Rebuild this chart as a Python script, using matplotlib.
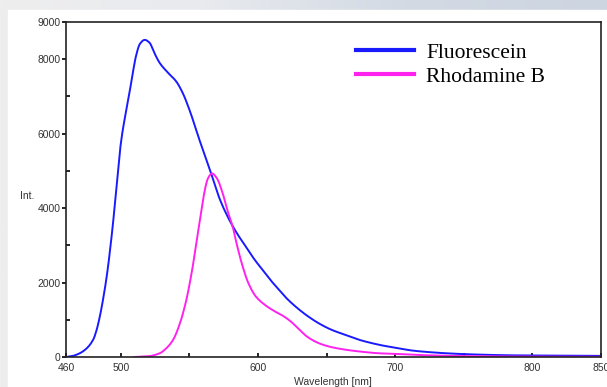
import numpy as np
import matplotlib
matplotlib.use("Agg")
import matplotlib.pyplot as plt
from matplotlib.patches import Rectangle

# =========================
# Data (wavelength in nm, intensity)
# =========================
fluor_nm = [460, 465, 470, 475, 480, 482.5, 485, 487.5, 490, 494, 497, 500, 503.5, 506.5,
            509, 511.3, 514, 517.4, 521, 524, 528.3, 534, 540.4, 545, 550, 557.3,
            565.8, 572, 579.1, 585, 591.2, 597, 603.3, 609, 615.4, 621, 627.5, 635,
            644.5, 653, 663.9, 673, 683.2, 692, 702.6, 712, 725, 737, 748.6, 765,
            785, 805, 825, 850]
fluor_int = [0, 30, 100, 230, 480, 750, 1150, 1650, 2250, 3500, 4650, 5750, 6550, 7150,
             7700, 8130, 8420, 8520, 8440, 8200, 7900, 7650, 7400, 7100, 6640, 5830,
             4930, 4250, 3680, 3300, 2960, 2640, 2340, 2070, 1800, 1570, 1350, 1130,
             900, 740, 590, 470, 370, 300, 235, 175, 130, 100, 80, 60,
             45, 40, 35, 30]

rhod_nm = [510, 520, 528.3, 533, 538, 543, 547.7, 552, 556, 559, 561, 563.5, 566.5,
           570, 574.2, 578, 581.5, 585, 588.8, 593, 598.5, 605, 612, 618, 624,
           630, 636, 645, 653, 663, 675.9, 688, 702.6, 720, 750, 800, 850]
rhod_int = [0, 20, 100, 230, 456, 900, 1530, 2350, 3300, 4000, 4450, 4800, 4930,
            4800, 4400, 3900, 3500, 2950, 2430, 1980, 1620, 1400, 1230, 1110, 950,
            740, 540, 360, 270, 200, 140, 100, 80, 50, 25, 10, 5]

x_ticks = [460, 500, 600, 700, 800, 850]
y_ticks = [0, 2000, 4000, 6000, 8000, 9000]


def smooth(x, y, n=600):
    # monotone-ish cubic through the read points
    xs = np.linspace(x[0], x[-1], n)
    x = np.asarray(x, float)
    y = np.asarray(y, float)
    h = np.diff(x)
    d = np.diff(y) / h
    m = np.zeros_like(y)
    m[0], m[-1] = d[0], d[-1]
    for i in range(1, len(y) - 1):
        if d[i - 1] * d[i] <= 0:
            m[i] = 0
        else:
            w1 = 2 * h[i] + h[i - 1]
            w2 = h[i] + 2 * h[i - 1]
            m[i] = (w1 + w2) / (w1 / d[i - 1] + w2 / d[i])
    idx = np.clip(np.searchsorted(x, xs) - 1, 0, len(x) - 2)
    t = (xs - x[idx]) / h[idx]
    h00 = 2 * t**3 - 3 * t**2 + 1
    h10 = t**3 - 2 * t**2 + t
    h01 = -2 * t**3 + 3 * t**2
    h11 = t**3 - t**2
    ys = h00 * y[idx] + h10 * h[idx] * m[idx] + h01 * y[idx + 1] + h11 * h[idx] * m[idx + 1]
    return xs, ys


fig = plt.figure(figsize=(6.07, 3.87), dpi=100)

# background gradient + white panel
bg = fig.add_axes([0, 0, 1, 1], zorder=-10)
grad = np.linspace(0, 1, 256)[None, :]
bg.imshow(grad, aspect="auto", extent=[0, 1, 0, 1],
          cmap=matplotlib.colors.LinearSegmentedColormap.from_list(
              "bgc", ["#eeeeee", "#e8eaee", "#d3dae4", "#cdd5e1"]))
bg.add_patch(Rectangle((8 / 607, 0), 1, 1 - 10 / 387, color="white"))
bg.set_xlim(0, 1)
bg.set_ylim(0, 1)
bg.axis("off")

ax = fig.add_axes([66 / 607, 1 - 357 / 387, 535 / 607, 335 / 387])
ax.set_facecolor("white")

fx, fy = smooth(fluor_nm, fluor_int)
rx, ry = smooth(rhod_nm, rhod_int)
ax.plot(fx, fy, color="#1a1aff", linewidth=1.4, label="Fluorescein")
ax.plot(rx, ry, color="#ff22ee", linewidth=1.4, label="Rhodamine B")

ax.set_xlim(460, 850)
ax.set_ylim(0, 9000)
ax.set_xticks(x_ticks)
ax.set_xticks([550, 650, 750], minor=True)
ax.set_yticks(y_ticks)
ax.set_yticks([1000, 3000, 5000, 7000], minor=True)

for s in ax.spines.values():
    s.set_linewidth(1.2)
    s.set_color("#222222")

ax.tick_params(axis="x", which="both", direction="in", length=3, width=1.2,
               labelsize=7.5, labelcolor="#333333", pad=4.5)
ax.tick_params(axis="y", which="major", direction="out", length=3, width=1.2,
               labelsize=7.5, labelcolor="#333333", pad=1)
ax.tick_params(axis="y", which="minor", direction="in", length=3, width=1.2)

fig.text(20 / 607, 1 - 196 / 387, "Int.", fontsize=7.5, color="#333333",
         family="Liberation Sans", va="center")
fig.text(333 / 607, 1 - 382 / 387, "Wavelength [nm]", fontsize=7.5, color="#333333",
         family="Liberation Sans", ha="center", va="center")

for lab in ax.get_xticklabels() + ax.get_yticklabels():
    lab.set_family("Liberation Sans")

leg = ax.legend(loc="upper left", bbox_to_anchor=(0.51, 0.99), frameon=False,
                prop={"family": "Liberation Serif", "size": 15.5},
                handlelength=2.7, handletextpad=0.55, labelspacing=0.18,
                borderpad=0.3)
for line in leg.get_lines():
    line.set_linewidth(3)

fig.savefig("out.png", dpi=100)
